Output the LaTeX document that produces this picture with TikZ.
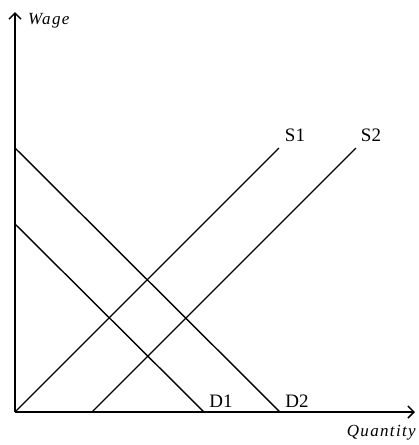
\documentclass[tikz,border=0pt]{standalone}
\usepackage{fontspec}
\setmainfont{Liberation Serif}
\usetikzlibrary{arrows.meta}
\begin{document}
\begin{tikzpicture}[x=1pt,y=-1pt,
  axis/.style={line width=1.7pt,-{Straight Barb[length=6pt,width=12pt,line width=1.5pt]}},
  curve/.style={line width=1.4pt},
  lbl/.style={font=\fontsize{19}{22}\selectfont,inner sep=0pt},
  axlbl/.style={font=\fontsize{17}{20}\selectfont\itshape\addfontfeatures{LetterSpace=8},inner sep=0pt}]
\useasboundingbox (0,0) rectangle (419,445);
\coordinate (O) at (15,412);
\coordinate (ytop) at (15,12);
\coordinate (xend) at (415,412);
\coordinate (d1a) at (15,224);
\coordinate (d1b) at (204,412);
\coordinate (d2a) at (15,148);
\coordinate (d2b) at (280,412);
\coordinate (s1a) at (15,412);
\coordinate (s1b) at (279,148);
\coordinate (s2a) at (92,412);
\coordinate (s2b) at (356,148);
\draw[curve] (d1a) -- (d1b);
\draw[curve] (d2a) -- (d2b);
\draw[curve] (s1a) -- (s1b);
\draw[curve] (s2a) -- (s2b);
\draw[axis] (O) -- (ytop);
\draw[axis] (O) -- (xend);
\node[axlbl,anchor=west] (wage) at (28,21) {Wage};
\node[axlbl,anchor=east] (qty) at (416,433) {Quantity};
\node[lbl] (S1) at (295,135) {S1};
\node[lbl] (S2) at (371,135) {S2};
\node[lbl] (D1) at (221,401) {D1};
\node[lbl] (D2) at (297,401) {D2};
\end{tikzpicture}
\end{document}
